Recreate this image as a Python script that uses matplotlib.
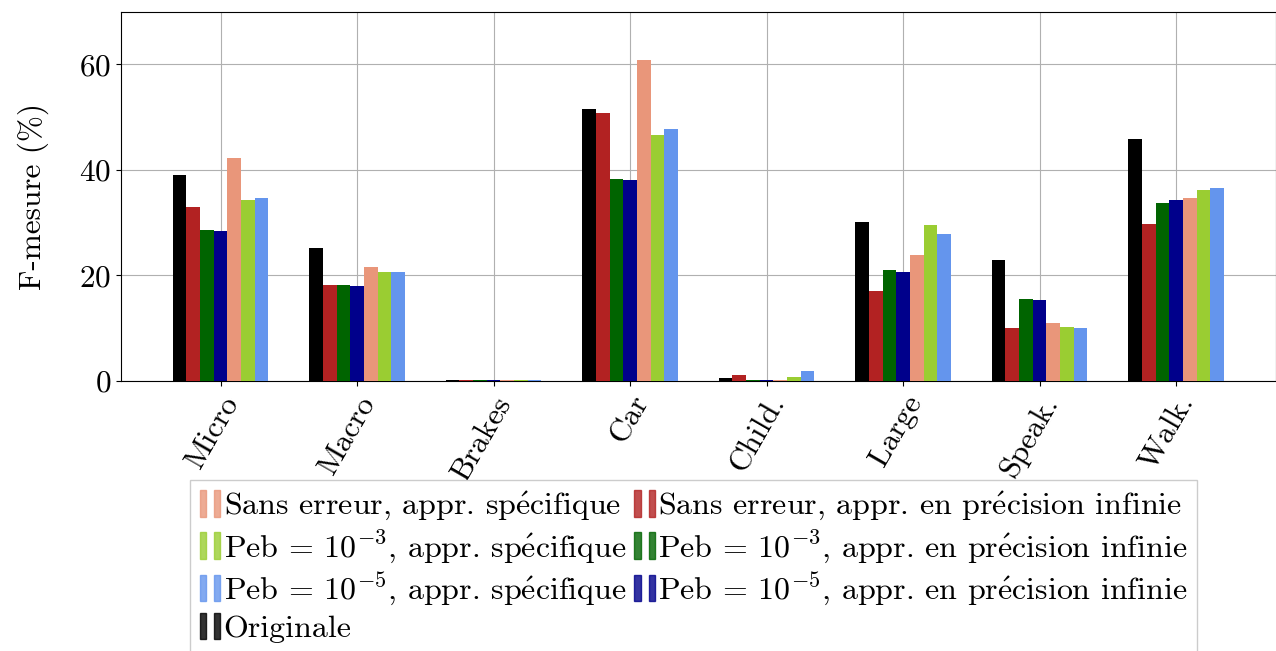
import matplotlib
matplotlib.use("Agg")
import matplotlib.pyplot as plt
import numpy as np
from matplotlib.patches import Patch
from matplotlib.legend_handler import HandlerTuple

plt.rcParams['font.family'] = ['cmr10', 'DejaVu Serif']
plt.rcParams['mathtext.fontset'] = 'cm'
plt.rcParams['axes.formatter.use_mathtext'] = True

categories = ['Micro', 'Macro', 'Brakes', 'Car', 'Child.', 'Large', 'Speak.', 'Walk.']

originale = [39.1, 25.2, 0.1, 51.5, 0.6, 30.2, 22.9, 45.8]
sans_err_inf = [33.0, 18.2, 0.1, 50.7, 1.2, 17.0, 10.0, 29.8]
peb3_inf = [28.6, 18.2, 0.1, 38.2, 0.1, 21.0, 15.5, 33.8]
peb5_inf = [28.4, 18.0, 0.1, 38.0, 0.1, 20.6, 15.3, 34.2]
sans_err_spec = [42.3, 21.6, 0.1, 60.8, 0.1, 23.9, 10.9, 34.6]
peb3_spec = [34.3, 20.6, 0.1, 46.7, 0.8, 29.6, 10.2, 36.1]
peb5_spec = [34.7, 20.6, 0.1, 47.7, 1.8, 27.9, 10.0, 36.5]

E = r'$\mathrm{\acute{e}}$'
series = [
    (originale, 'black', 'Originale'),
    (sans_err_inf, 'firebrick', 'Sans erreur, appr. en pr' + E + 'cision infinie'),
    (peb3_inf, 'darkgreen', r'Peb = $10^{-3}$, appr. en pr' + E + 'cision infinie'),
    (peb5_inf, 'darkblue', r'Peb = $10^{-5}$, appr. en pr' + E + 'cision infinie'),
    (sans_err_spec, 'darksalmon', 'Sans erreur, appr. sp' + E + 'cifique'),
    (peb3_spec, 'yellowgreen', r'Peb = $10^{-3}$, appr. sp' + E + 'cifique'),
    (peb5_spec, 'cornflowerblue', r'Peb = $10^{-5}$, appr. sp' + E + 'cifique'),
]

fig = plt.figure(figsize=(12.76, 6.51), dpi=100)
ax = fig.add_axes([0.0948, 0.415, 0.905, 0.567])

x = np.arange(len(categories))
w = 0.1
handles = {}
for i, (vals, col, lab) in enumerate(series):
    ax.bar(x + (i - 3) * w, vals, w, color=col, zorder=3)
    handles[lab] = (Patch(color=col, alpha=0.8), Patch(color=col, alpha=0.8))

fs = 22.5
ax.set_xlim(-0.73, 7.73)
ax.set_ylim(0, 70)
ax.set_yticks([0, 20, 40, 60])
ax.set_xticks(x)
ax.set_xticklabels(categories, rotation=60, ha='right', rotation_mode='anchor')
ax.tick_params(labelsize=fs)
ax.set_ylabel('F-mesure (%)', fontsize=fs, labelpad=22)
ax.grid(True, color='#b0b0b0', linewidth=0.8, zorder=0)
for s in ax.spines.values():
    s.set_linewidth(0.8)

order = [4, 5, 6, 0, 1, 2, 3]
labs = [series[k][2] for k in order]
leg = fig.legend([handles[l] for l in labs], labs, ncol=2,
                 handler_map={tuple: HandlerTuple(ndivide=None, pad=0.25)},
                 loc='upper left', bbox_to_anchor=(0.149, 0.263), fontsize=23,
                 handlelength=0.65, handleheight=0.9, handletextpad=0.1,
                 columnspacing=0.25, labelspacing=0.17, borderpad=0.3,
                 borderaxespad=0, fancybox=False, edgecolor='#cccccc',
                 framealpha=1)

fig.savefig('out.png', dpi=100)
